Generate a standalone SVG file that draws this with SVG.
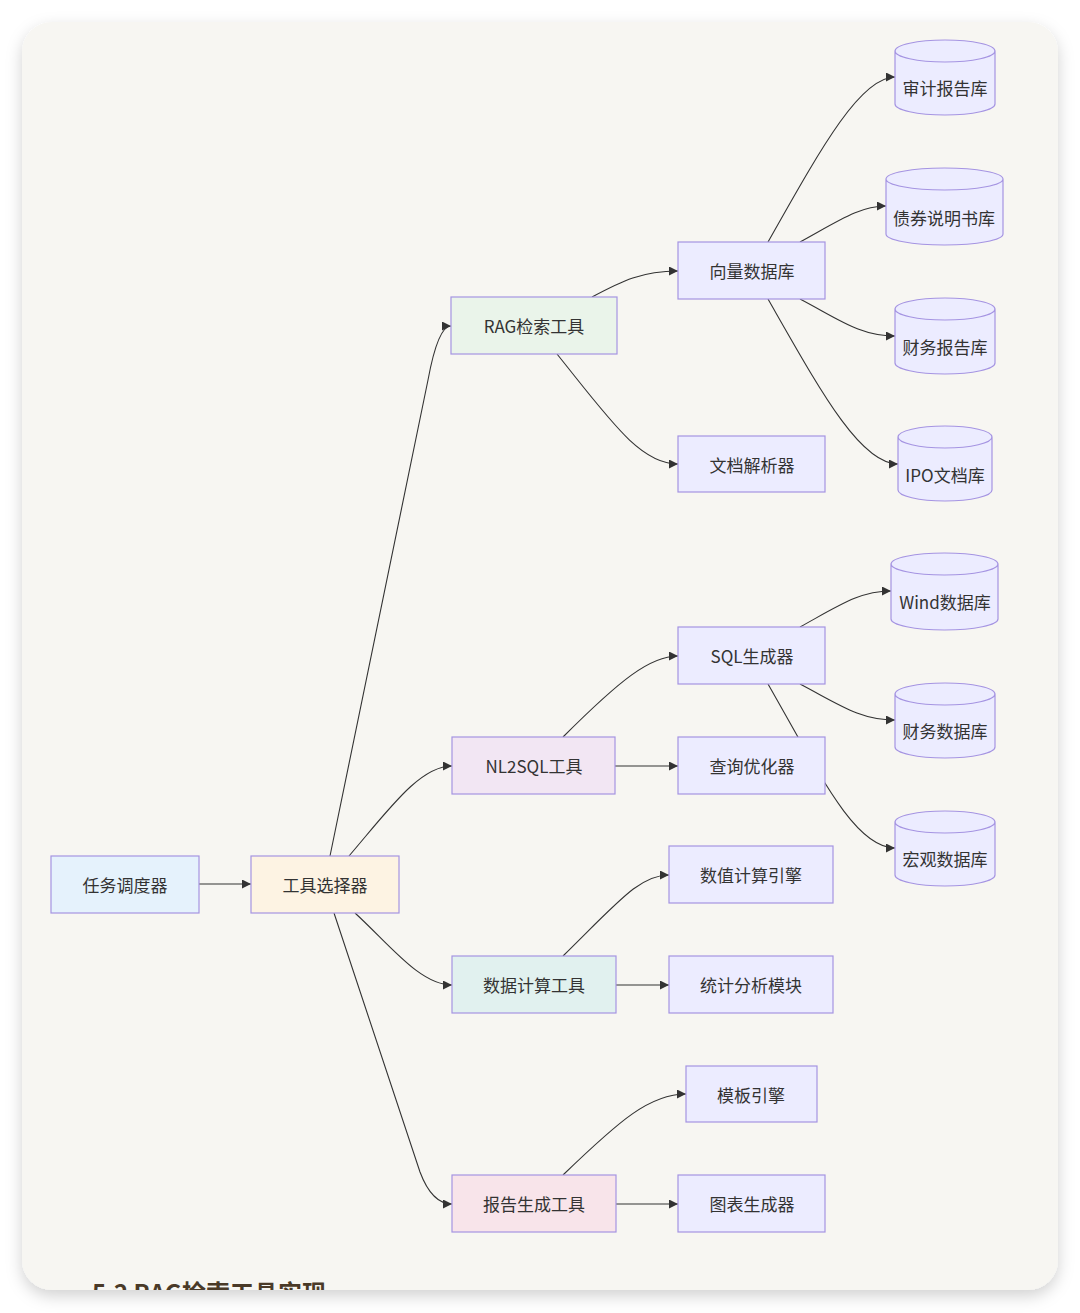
<svg xmlns="http://www.w3.org/2000/svg" width="1080" height="1313" viewBox="0 0 1080 1313">
<defs>
<style>
.n{stroke:#a594e2;stroke-width:1.2}
.t{font-family:"Noto Sans CJK SC","Noto Sans",sans-serif;font-size:17px;fill:#333;text-anchor:middle;dominant-baseline:central}
.e{fill:none;stroke:#333;stroke-width:1.1;marker-end:url(#ah)}
.db{fill:#ececff}
.v{fill:#ececff}
</style>
<marker id="ah" viewBox="0 0 10 10" refX="10" refY="5" markerWidth="9" markerHeight="9" markerUnits="userSpaceOnUse" orient="auto">
<path d="M0,0 L10,5 L0,10 z" fill="#333"/>
</marker>
<filter id="sh" x="-5%" y="-5%" width="110%" height="110%">
<feDropShadow dx="0" dy="6" stdDeviation="8" flood-color="#000" flood-opacity="0.18"/>
</filter>
<clipPath id="cardclip"><rect x="22" y="22" width="1036" height="1268" rx="30"/></clipPath>
</defs>
<rect width="1080" height="1313" fill="#ffffff"/>
<rect x="22" y="22" width="1036" height="1268" rx="30" fill="#f7f6f2" filter="url(#sh)"/>
<g clip-path="url(#cardclip)">
<text x="92" y="1302" font-family="'Noto Sans CJK SC','Noto Sans',sans-serif" font-size="24" font-weight="bold" fill="#4a3a28">5.2 RAG检索工具实现</text>
</g>
<g id="connectors">
<path class="e" d="M199,884 L251,884"/>
<path class="e" d="M330,856 L428,380 Q438,326 451,326"/>
<path class="e" d="M349,856 C390,808 420,766 452,766"/>
<path class="e" d="M355,913 C390,945 420,985 452,985"/>
<path class="e" d="M334,913 L420,1172 Q432,1204 452,1204"/>
<path class="e" d="M592,297 C622,281 642,271 678,271"/>
<path class="e" d="M557,354 C610,420 640,464 678,464"/>
<path class="e" d="M768,242 C820,150 860,77 895,77"/>
<path class="e" d="M800,242 C840,220 860,206 886,206"/>
<path class="e" d="M800,299 C840,320 860,336 895,336"/>
<path class="e" d="M768,299 C820,390 860,464 898,464"/>
<path class="e" d="M563,737 C620,680 650,656 678,656"/>
<path class="e" d="M615,766 L678,766"/>
<path class="e" d="M800,627 C840,605 860,591 891,591"/>
<path class="e" d="M800,684 C840,705 860,720 895,720"/>
<path class="e" d="M768,684 C820,775 855,848 895,848"/>
<path class="e" d="M563,956 C620,900 640,875 669,875"/>
<path class="e" d="M616,985 L669,985"/>
<path class="e" d="M563,1175 C620,1120 650,1094 686,1094"/>
<path class="e" d="M616,1204 L678,1204"/>
</g>
<g id="n-task"><rect class="n" x="51" y="856" width="148" height="57" fill="#e5f2fc"/><text class="t" x="125" y="884">任务调度器</text></g>
<g id="n-select"><rect class="n" x="251" y="856" width="148" height="57" fill="#fdf3e3"/><text class="t" x="325" y="884">工具选择器</text></g>
<g id="n-rag"><rect class="n" x="451" y="297" width="166" height="57" fill="#eaf4ea"/><text class="t" x="534" y="325">RAG检索工具</text></g>
<g id="n-nl2sql"><rect class="n" x="452" y="737" width="163" height="57" fill="#f2e6f3"/><text class="t" x="534" y="765">NL2SQL工具</text></g>
<g id="n-calc"><rect class="n" x="452" y="956" width="164" height="57" fill="#e1f1ef"/><text class="t" x="534" y="984">数据计算工具</text></g>
<g id="n-report"><rect class="n" x="452" y="1175" width="164" height="57" fill="#f8e4ea"/><text class="t" x="534" y="1203">报告生成工具</text></g>
<g id="n-vec"><rect class="n v" x="678" y="242" width="147" height="57"/><text class="t" x="752" y="270">向量数据库</text></g>
<g id="n-doc"><rect class="n v" x="678" y="436" width="147" height="56"/><text class="t" x="752" y="464">文档解析器</text></g>
<g id="n-sqlgen"><rect class="n v" x="678" y="627" width="147" height="57"/><text class="t" x="752" y="655">SQL生成器</text></g>
<g id="n-opt"><rect class="n v" x="678" y="737" width="147" height="57"/><text class="t" x="752" y="765">查询优化器</text></g>
<g id="n-num"><rect class="n v" x="669" y="846" width="164" height="57"/><text class="t" x="751" y="874">数值计算引擎</text></g>
<g id="n-stat"><rect class="n v" x="669" y="956" width="164" height="57"/><text class="t" x="751" y="984">统计分析模块</text></g>
<g id="n-tpl"><rect class="n v" x="686" y="1066" width="131" height="56"/><text class="t" x="751" y="1094">模板引擎</text></g>
<g id="n-chart"><rect class="n v" x="678" y="1175" width="147" height="57"/><text class="t" x="752" y="1203">图表生成器</text></g>
<g id="db-audit"><path class="n db" d="M895,51 a50,11 0 0 0 100,0 a50,11 0 0 0 -100,0 l0,53 a50,11 0 0 0 100,0 l0,-53"/><text class="t" x="945" y="87">审计报告库</text></g>
<g id="db-bond"><path class="n db" d="M886,179 a58.5,11 0 0 0 117,0 a58.5,11 0 0 0 -117,0 l0,55 a58.5,11 0 0 0 117,0 l0,-55"/><text class="t" x="944" y="217">债券说明书库</text></g>
<g id="db-fin"><path class="n db" d="M895,309 a50,11 0 0 0 100,0 a50,11 0 0 0 -100,0 l0,54 a50,11 0 0 0 100,0 l0,-54"/><text class="t" x="945" y="346">财务报告库</text></g>
<g id="db-ipo"><path class="n db" d="M898,437 a47,11 0 0 0 94,0 a47,11 0 0 0 -94,0 l0,53 a47,11 0 0 0 94,0 l0,-53"/><text class="t" x="945" y="474">IPO文档库</text></g>
<g id="db-wind"><path class="n db" d="M891,564 a53.5,11 0 0 0 107,0 a53.5,11 0 0 0 -107,0 l0,55 a53.5,11 0 0 0 107,0 l0,-55"/><text class="t" x="945" y="601">Wind数据库</text></g>
<g id="db-findata"><path class="n db" d="M895,694 a50,11 0 0 0 100,0 a50,11 0 0 0 -100,0 l0,53 a50,11 0 0 0 100,0 l0,-53"/><text class="t" x="945" y="730">财务数据库</text></g>
<g id="db-macro"><path class="n db" d="M895,822 a50,11 0 0 0 100,0 a50,11 0 0 0 -100,0 l0,53 a50,11 0 0 0 100,0 l0,-53"/><text class="t" x="945" y="858">宏观数据库</text></g>
</svg>
